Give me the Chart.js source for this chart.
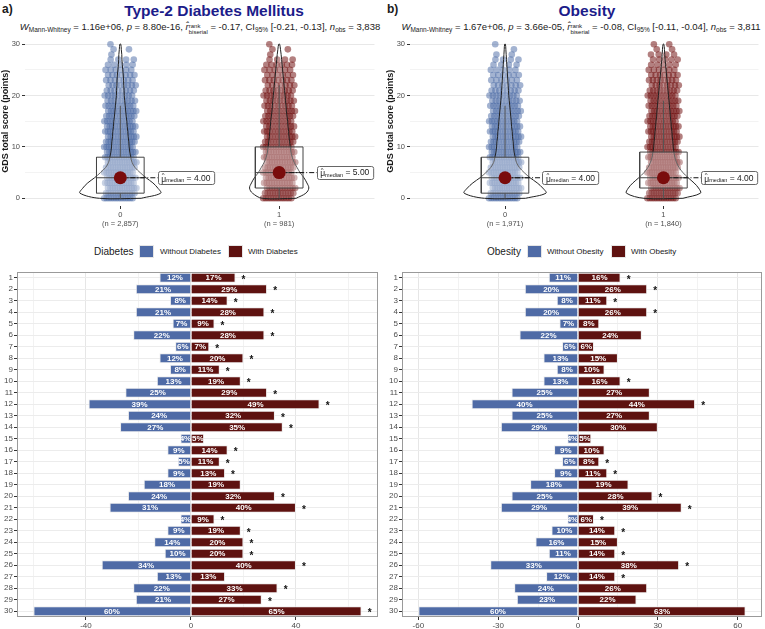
<!DOCTYPE html>
<html>
<head>
<meta charset="utf-8">
<script src="https://cdn.jsdelivr.net/npm/chart.js@4.4.1/dist/chart.umd.min.js"></script>
<style>
  body { margin:0; width:765px; height:629px; overflow:hidden; background:#fff; position:relative;
         font-family:"Liberation Sans", Arial, sans-serif; color:#1a1a1a; }
  canvas, .t { position:absolute; }
  .tag { font-weight:bold; font-size:12px; line-height:14px; }
  .title { font-weight:bold; font-size:15.5px; line-height:18px; color:#1c1c8a; text-align:center; width:260px; }
  .sub { font-size:9.5px; text-align:center; width:380px; white-space:nowrap; line-height:14px; }
  .sub sub { font-size:6.5px; vertical-align:-2px; line-height:0; }
  .stk { display:inline-block; vertical-align:-4px; font-size:6px; line-height:6px; text-align:left; }
  .lgt { font-size:10px; line-height:12px; }
  .lgi { font-size:8px; line-height:10px; color:#1a1a1a; }
  .key { width:15px; height:13px; box-sizing:border-box; border:1px solid #e6e6e6; }
</style>
</head>
<body>
<div class="t tag" style="left:2px;top:2px">a)</div>
<div class="t tag" style="left:387px;top:2px">b)</div>
<div class="t title" style="left:84px;top:2px">Type-2 Diabetes Mellitus</div>
<div class="t title" style="left:457px;top:2px">Obesity</div>
<div class="t sub" style="left:10px;top:20px"><i>W</i><sub>Mann-Whitney</sub> = 1.16e+06, <i>p</i> = 8.80e-16, <i>r̂</i><span class="stk">rank<br>biserial</span> = -0.17, CI<sub>95%</sub> [-0.21, -0.13], <i>n</i><sub>obs</sub> = 3,838</div>
<div class="t sub" style="left:391px;top:20px"><i>W</i><sub>Mann-Whitney</sub> = 1.67e+06, <i>p</i> = 3.66e-05, <i>r̂</i><span class="stk">rank<br>biserial</span> = -0.08, CI<sub>95%</sub> [-0.11, -0.04], <i>n</i><sub>obs</sub> = 3,811</div>

<div class="t lgt" style="left:94px;top:246px">Diabetes</div>
<div class="t key" style="left:139px;top:245px;background:#4f6ba6"></div>
<div class="t lgi" style="left:160px;top:247px">Without Diabetes</div>
<div class="t key" style="left:228px;top:245px;background:#5e1210"></div>
<div class="t lgi" style="left:248px;top:247px">With Diabetes</div>

<div class="t lgt" style="left:487px;top:246px">Obesity</div>
<div class="t key" style="left:527px;top:245px;background:#4f6ba6"></div>
<div class="t lgi" style="left:547px;top:247px">Without Obesity</div>
<div class="t key" style="left:611px;top:245px;background:#5e1210"></div>
<div class="t lgi" style="left:631px;top:247px">With Obesity</div>

<canvas id="topA" width="381" height="200" style="left:0;top:30px"></canvas>
<canvas id="topB" width="380" height="200" style="left:385px;top:30px"></canvas>
<canvas id="barA" width="381" height="367" style="left:0;top:262px"></canvas>
<canvas id="barB" width="380" height="367" style="left:385px;top:262px"></canvas>

<script>
// ---- data ----
const items = ['1','2','3','4','5','6','7','8','9','10','11','12','13','14','15',
               '16','17','18','19','20','21','22','23','24','25','26','27','28','29','30'];

const diabWithout = [12,21,8,21,7,22,6,12,8,13,25,39,24,27,4,9,5,9,18,24,31,4,9,14,10,34,13,22,21,60];
const diabWith    = [17,29,14,28,9,28,7,20,11,19,29,49,32,35,5,14,11,13,19,32,40,9,19,20,20,40,13,33,27,65];
const diabStar    = [1,1,1,1,1,1,1,1,1,1,1,1,1,1,0,1,1,1,0,1,1,1,1,1,1,1,0,1,1,1];

const obeWithout = [11,20,8,20,7,22,6,13,8,13,25,40,25,29,4,9,6,9,18,25,29,4,10,16,11,33,12,24,23,60];
const obeWith    = [16,26,11,26,8,24,6,15,10,16,27,44,27,30,5,10,8,11,19,28,39,6,14,15,14,38,14,26,22,63];
const obeStar    = [1,1,1,1,0,0,0,0,0,1,0,1,0,0,0,0,1,1,0,1,1,1,1,0,1,1,1,0,0,0];

// GDS score levels and density (% of group) per level
const scores = [0,1,2,3,4,5,6,7,8,9,10,11,12,13,14,15,16,17,18,19,20,21,22,23,24,25,26,27,28,29,30];
const diabDens0 = [6.4,12.4,11.5,10,7.9,6.1,4.5,3.6,3.2,2.9,2.7,2.6,2.4,2.3,2.1,2.0,1.8,1.65,1.5,1.35,1.2,1.15,1.05,1.0,0.9,0.75,0.6,0.5,0.45,0.3,0.15];
const diabDens1 = [5.2,8.2,9.1,8.5,7.6,6.4,5.5,4.6,4.0,3.6,3.4,3.2,3.0,2.9,2.7,2.6,2.4,2.2,2.1,1.95,1.8,1.65,1.5,1.35,1.2,1.05,0.9,0.75,0.6,0.4,0.15];
const obeDens0  = [6.3,12.6,11.6,9.9,7.7,5.9,4.4,3.5,3.1,2.8,2.6,2.5,2.3,2.2,2.0,1.9,1.75,1.6,1.45,1.3,1.15,1.05,0.95,0.85,0.75,0.65,0.55,0.45,0.35,0.25,0.12];
const obeDens1  = [6.0,11.4,10.8,9.4,7.6,6.0,4.8,4.0,3.5,3.2,3.0,2.9,2.7,2.6,2.4,2.3,2.1,2.0,1.85,1.7,1.55,1.4,1.25,1.1,0.95,0.8,0.65,0.5,0.4,0.3,0.12];

// visible jittered dots per score level
const diabDots0 = [13,13,13,13,13,13,13,13,13,13,13,13,12,12,12,11,11,11,10,9,9,8,8,7,7,6,5,4,1,2,1];
const diabDots1 = [12,12,12,12,12,12,12,12,12,12,12,11,11,11,10,10,10,10,9,9,9,8,7,7,6,6,6,4,1,2,1];
const obeDots0  = [13,13,13,13,13,13,13,13,13,13,12,12,12,12,11,11,10,10,10,9,9,8,7,6,6,5,4,4,2,1,1];
const obeDots1  = [13,13,13,13,13,13,13,13,13,13,12,12,12,12,12,11,11,11,10,10,10,9,8,8,7,6,5,5,4,2,2];

// box stats [group 0, group 1]
const diabQ1 = [1, 2], diabMed = [4, 5], diabQ3 = [8, 10], diabHi = [18, 22];
const obeQ1  = [1, 2], obeMed  = [4, 4], obeQ3  = [8, 9],  obeHi  = [18, 19];

const diabN = ['(n = 2,857)', '(n = 981)'];
const obeN  = ['(n = 1,971)', '(n = 1,840)'];

// ---- styling ----
const FONT = "'Liberation Sans', Arial, sans-serif";
Chart.defaults.font.family = FONT;
Chart.defaults.color = '#4d4d4d';
const BLUE = '#4f6ba6', RED = '#5e1210';
const dotCols = ['rgba(72,104,164,0.5)', 'rgba(110,12,12,0.52)'];
const DENS_K = 0.0205;   // x units per density %
const JIT = 0.097;
const BOX_W = 0.15;
const LAB_OFF = 0.236;

function lineSet(data, extra) {
  return Object.assign({ type: 'scatter', data: data, showLine: true, pointRadius: 0,
    borderColor: '#333', borderWidth: 1, fill: false, tension: 0 }, extra);
}

function medLabelPlugin(meds) {
  return {
    id: 'medLabels',
    afterDatasetsDraw(chart) {
      const { ctx, scales: { x, y } } = chart;
      meds.forEach((m, g) => {
        const px = x.getPixelForValue(g + LAB_OFF), py = y.getPixelForValue(m);
        const f1 = '8.5px ' + FONT, f2 = '5.5px ' + FONT;
        ctx.save();
        ctx.font = f1;
        const wMu = ctx.measureText('μ').width;
        const eq = ' = ' + m.toFixed(2);
        const wEq = ctx.measureText(eq).width;
        ctx.font = f2;
        const wSub = ctx.measureText('median').width;
        const w = wMu + wSub + wEq + 7, h = 13;
        ctx.beginPath();
        ctx.roundRect(Math.round(px) + 0.5, Math.round(py - h / 2) + 0.5, w, h, 2);
        ctx.fillStyle = '#fff';
        ctx.fill();
        ctx.strokeStyle = '#666';
        ctx.lineWidth = 1;
        ctx.stroke();
        ctx.fillStyle = '#1a1a1a';
        ctx.textBaseline = 'middle';
        let tx = px + 3.5;
        ctx.font = f1;
        ctx.fillText('μ', tx, py + 1.5);
        ctx.font = '6px ' + FONT;
        ctx.fillText('^', tx + 0.5, py - 2.5);
        tx += wMu;
        ctx.font = f2;
        ctx.fillText('median', tx, py + 3);
        tx += wSub;
        ctx.font = f1;
        ctx.fillText(eq, tx, py + 0.5);
        ctx.restore();
      });
    }
  };
}

function buildTop(id, dens, dots, q1, med, q3, hi, nLab) {
  const sets = [];
  [0, 1].forEach(g => {
    // jittered dots
    const pts = [];
    scores.forEach((s, i) => {
      const k = dots[g][i];
      const shift = ((s * 7) % 5 - 2) * 0.006;
      for (let j = 0; j < k; j++) {
        const off = k === 1 ? (s % 2 ? 0.05 : -0.05) : JIT * (2 * (j + 0.5) / k - 1);
        pts.push({ x: g + off + shift, y: s });
      }
    });
    sets.push({ type: 'scatter', data: pts, pointRadius: 3.3, pointHoverRadius: 3.3,
      backgroundColor: dotCols[g], borderWidth: 0, order: 20 });
    // violin
    const right = scores.map((s, i) => ({ x: g + dens[g][i] * DENS_K, y: s }));
    const left = scores.slice().reverse().map(s => ({ x: g - dens[g][s] * DENS_K, y: s }));
    sets.push(lineSet(right.concat(left, [right[0]]),
      { tension: 0.35, fill: 'shape', backgroundColor: 'rgba(255,255,255,0.15)', borderColor: '#222', order: 8 }));
    // box
    sets.push(lineSet([{ x: g - BOX_W, y: q1[g] }, { x: g + BOX_W, y: q1[g] }, { x: g + BOX_W, y: q3[g] },
      { x: g - BOX_W, y: q3[g] }, { x: g - BOX_W, y: q1[g] }],
      { fill: 'shape', backgroundColor: 'rgba(255,255,255,0.3)', borderColor: '#444', order: 6 }));
    sets.push(lineSet([{ x: g - BOX_W, y: med[g] }, { x: g + BOX_W, y: med[g] }], { borderColor: '#444', order: 5 }));
    sets.push(lineSet([{ x: g, y: q3[g] }, { x: g, y: hi[g] }], { borderColor: '#555', order: 5 }));
    sets.push(lineSet([{ x: g, y: 0 }, { x: g, y: q1[g] }], { borderColor: '#555', order: 5 }));
    // median connector and point
    sets.push(lineSet([{ x: g, y: med[g] }, { x: g + LAB_OFF, y: med[g] }],
      { borderColor: '#111', borderDash: [5, 2, 1, 2], order: 3 }));
    sets.push({ type: 'scatter', data: [{ x: g, y: med[g] }], pointRadius: 6.5, pointHoverRadius: 6.5,
      backgroundColor: '#7a0c0c', borderWidth: 0, order: 1 });
  });

  new Chart(document.getElementById(id), {
    type: 'scatter',
    data: { datasets: sets },
    plugins: [medLabelPlugin(med)],
    options: {
      responsive: false, animation: false, events: [],
      layout: { padding: { top: 5, right: 2 } },
      plugins: { legend: { display: false }, tooltip: { enabled: false } },
      scales: {
        x: {
          type: 'linear', min: -0.6, max: 1.6,
          afterBuildTicks: s => { s.ticks = [{ value: 0 }, { value: 1 }]; },
          afterFit: s => { s.height = 24; },
          ticks: { font: { size: 7.5 }, color: '#4d4d4d', padding: 1, maxRotation: 0,
                   callback: v => [String(v), nLab[v]] },
          grid: { drawOnChartArea: false, tickLength: 3, tickColor: '#333' },
          border: { display: false }
        },
        y: {
          min: -1.5, max: 31.5,
          afterBuildTicks: s => { s.ticks = [0, 5, 10, 15, 20, 25, 30].map(v => ({ value: v })); },
          afterFit: s => { s.width = 25; },
          ticks: { font: { size: 7.5 }, color: '#4d4d4d', padding: 2, callback: v => (v % 10 === 0 ? v : '') },
          grid: { color: c => (c.tick && c.tick.value % 10 === 0 ? '#e8e8e8' : '#f3f3f3'),
                  tickLength: 3, tickColor: c => (c.tick && c.tick.value % 10 === 0 ? '#333' : 'rgba(0,0,0,0)') },
          border: { display: false },
          title: { display: true, text: 'GDS total score (points)', font: { size: 9, weight: 'bold' },
                   color: '#1a1a1a', padding: { top: 0, bottom: 1 } }
        }
      }
    }
  });
}

function barPlugin(noVals, yesVals, stars) {
  return {
    id: 'barLabels',
    afterDatasetsDraw(chart) {
      const { ctx, chartArea: a } = chart;
      ctx.save();
      ctx.textAlign = 'center';
      ctx.textBaseline = 'middle';
      ctx.font = 'bold 8px ' + FONT;
      ctx.fillStyle = '#fff';
      [noVals, yesVals].forEach((vals, d) => {
        chart.getDatasetMeta(d).data.forEach((el, i) => {
          ctx.fillText(vals[i] + '%', (el.x + el.base) / 2, el.y + 0.5);
        });
      });
      ctx.fillStyle = '#111';
      ctx.font = 'bold 10px ' + FONT;
      chart.getDatasetMeta(1).data.forEach((el, i) => {
        if (stars[i]) ctx.fillText('*', el.x + 8, el.y + 2);
      });
      ctx.strokeStyle = '#9a9a9a';
      ctx.lineWidth = 1;
      ctx.strokeRect(Math.round(a.left) + 0.5, Math.round(a.top) + 0.5,
                     Math.round(a.right - a.left) - 1, Math.round(a.bottom - a.top) - 1);
      ctx.restore();
    }
  };
}

function buildBars(id, noVals, yesVals, stars, gridTicks, major, xmin, xmax) {
  new Chart(document.getElementById(id), {
    type: 'bar',
    data: {
      labels: items,
      datasets: [
        { data: noVals.map(v => -v), backgroundColor: BLUE, borderColor: 'rgba(235,235,235,0.9)', borderWidth: 1,
          barPercentage: 0.87, categoryPercentage: 1 },
        { data: yesVals, backgroundColor: RED, borderColor: 'rgba(235,235,235,0.9)', borderWidth: 1,
          barPercentage: 0.87, categoryPercentage: 1 }
      ]
    },
    plugins: [barPlugin(noVals, yesVals, stars)],
    options: {
      indexAxis: 'y', responsive: false, animation: false, events: [],
      layout: { padding: { top: 10, right: 3 } },
      plugins: { legend: { display: false }, tooltip: { enabled: false } },
      scales: {
        x: {
          stacked: true, min: xmin, max: xmax,
          afterBuildTicks: s => { s.ticks = gridTicks.map(v => ({ value: v })); },
          afterFit: s => { s.height = 12; },
          ticks: { font: { size: 8 }, color: '#4d4d4d', padding: 1, maxRotation: 0,
                   callback: v => (v % major === 0 ? v : '') },
          grid: { color: c => (c.tick && c.tick.value % major === 0 ? '#e6e6e6' : '#f2f2f2'),
                  tickLength: 3, tickColor: c => (c.tick && c.tick.value % major === 0 ? '#333' : 'rgba(0,0,0,0)') },
          border: { display: false }
        },
        y: {
          stacked: true,
          afterFit: s => { s.width = 17; },
          ticks: { font: { size: 8 }, color: '#4d4d4d', padding: 1, autoSkip: false },
          grid: { offset: false, color: '#ececec', tickLength: 3, tickColor: '#333' },
          border: { display: false }
        }
      }
    }
  });
}

buildTop('topA', [diabDens0, diabDens1], [diabDots0, diabDots1], diabQ1, diabMed, diabQ3, diabHi, diabN);
buildTop('topB', [obeDens0, obeDens1], [obeDots0, obeDots1], obeQ1, obeMed, obeQ3, obeHi, obeN);
buildBars('barA', diabWithout, diabWith, diabStar, [-60, -40, -20, 0, 20, 40, 60], 40, -66.25, 71.25);
buildBars('barB', obeWithout, obeWith, obeStar, [-60, -45, -30, -15, 0, 15, 30, 45, 60], 30, -66.15, 69.15);
</script>
</body>
</html>
